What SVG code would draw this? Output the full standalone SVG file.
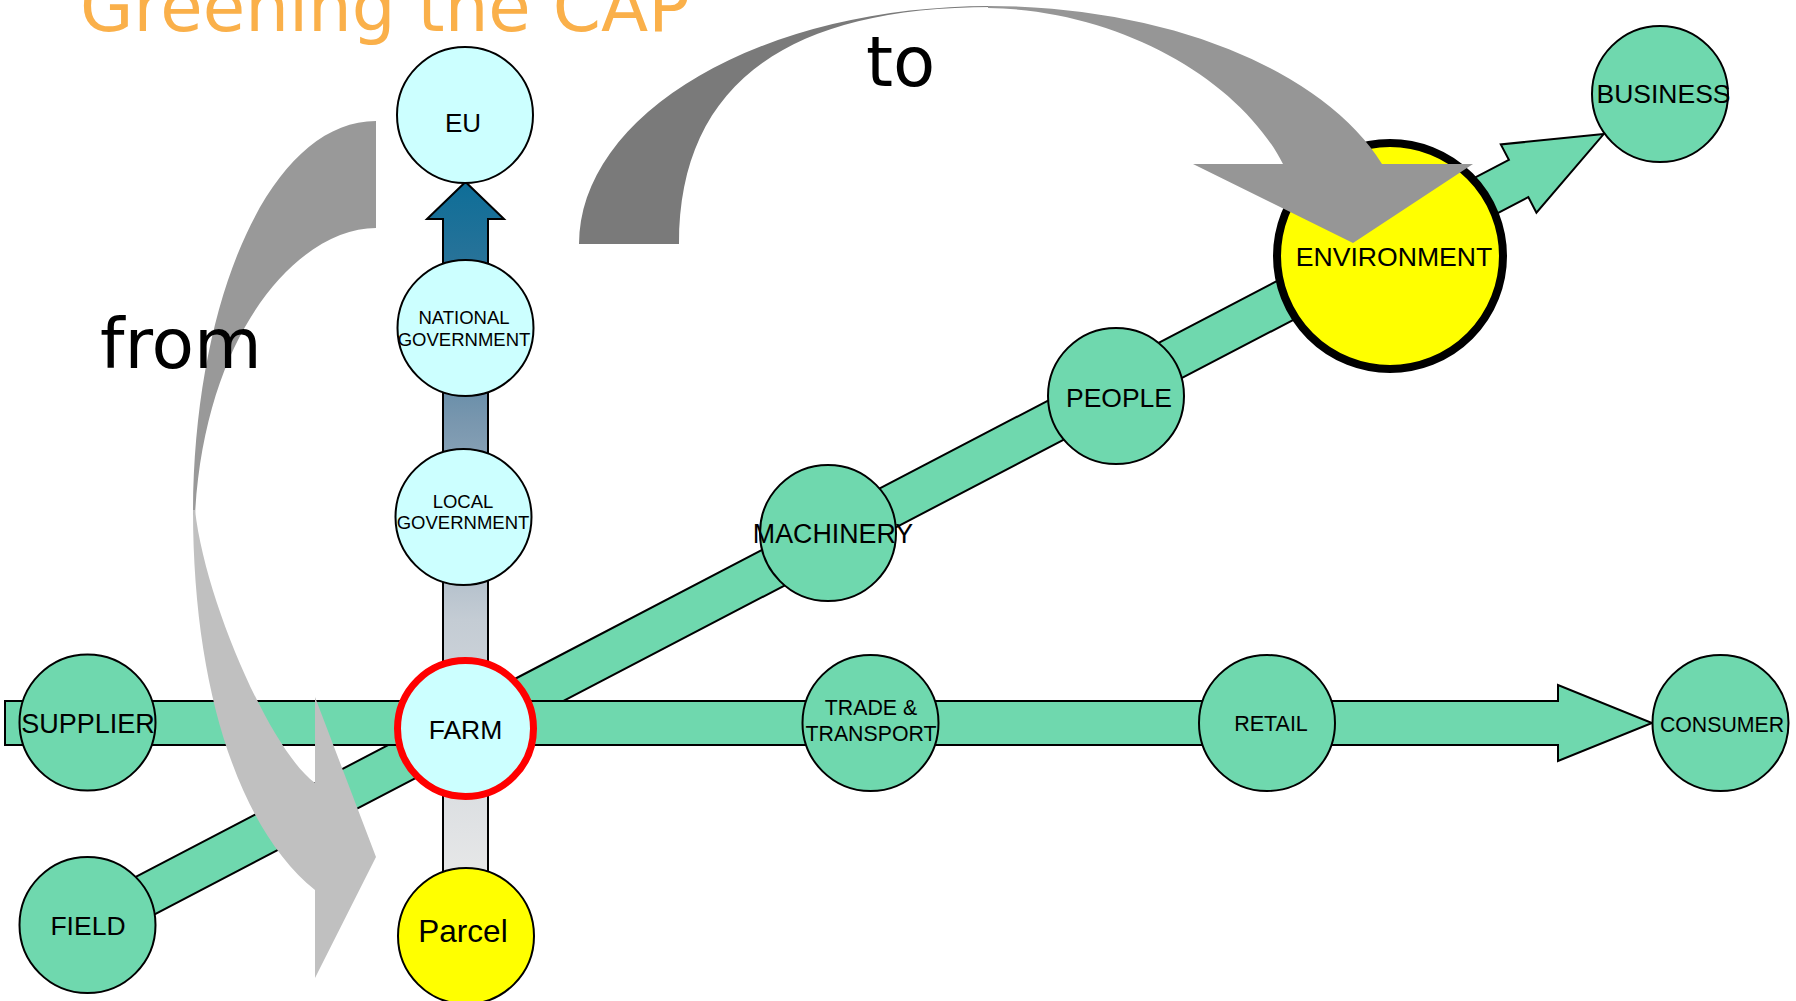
<svg xmlns="http://www.w3.org/2000/svg" width="1796" height="1001" viewBox="0 0 1796 1001">
<defs>
<style>
.nd{stroke:#000;stroke-width:2}
.gr{fill:#6FD8AE}
.cy{fill:#CCFFFF}
.ye{fill:#FFFF00}
.bar{fill:#6FD8AE;stroke:#000;stroke-width:2;stroke-linejoin:miter}
.lbl{font-family:"Liberation Sans",Arial,sans-serif;text-anchor:middle;fill:#000}
.big{font-family:"DejaVu Sans",Verdana,sans-serif;fill:#000}
</style>
<linearGradient id="vgrad" gradientUnits="userSpaceOnUse" x1="0" y1="182" x2="0" y2="900">
<stop offset="0" stop-color="#0E6E98"/>
<stop offset="0.12" stop-color="#2A7399"/>
<stop offset="0.33" stop-color="#7896AE"/>
<stop offset="0.61" stop-color="#C4CCD4"/>
<stop offset="1" stop-color="#EAEAEA"/>
</linearGradient>
</defs>
<rect width="1796" height="1001" fill="#FFFFFF"/>

<g id="connectors">
<g id="diagonal-arrow" transform="translate(87,926) rotate(-27.57)">
<path class="bar" d="M0,-21 L1615,-21 L1615,-38.5 L1711,0 L1615,38.5 L1615,21 L0,21 Z"/>
</g>
<path id="horizontal-arrow" class="bar" d="M5,701 L1558,701 L1558,685 L1652,723 L1558,761 L1558,745 L5,745 Z"/>
<path id="vertical-arrow" d="M443,900 L443,219 L427,219 L465.5,182 L504,219 L488,219 L488,900 Z" fill="url(#vgrad)" stroke="#000" stroke-width="2"/>
</g>

<g id="node-eu"><circle class="nd cy" cx="465" cy="115" r="68"/><text class="lbl" x="463" y="132" font-size="26">EU</text></g>
<g id="node-national"><circle class="nd cy" cx="465.5" cy="328" r="68"/><text class="lbl" x="464" y="324" font-size="18.5">NATIONAL</text><text class="lbl" x="464" y="346" font-size="18.5">GOVERNMENT</text></g>
<g id="node-local"><circle class="nd cy" cx="463.5" cy="517" r="68"/><text class="lbl" x="463" y="508" font-size="18.5">LOCAL</text><text class="lbl" x="463" y="529" font-size="18.5">GOVERNMENT</text></g>
<g id="node-farm"><circle class="cy" cx="465.5" cy="728.5" r="68" stroke="#FF0000" stroke-width="7"/><text class="lbl" x="465.5" y="739" font-size="26.5">FARM</text></g>
<g id="node-parcel"><circle class="nd ye" cx="466" cy="936" r="68"/><text class="lbl" x="463" y="942" font-size="31.5">Parcel</text></g>
<g id="node-supplier"><circle class="nd gr" cx="87.5" cy="722.5" r="68"/><text class="lbl" x="88" y="733" font-size="27">SUPPLIER</text></g>
<g id="node-field"><circle class="nd gr" cx="87.5" cy="925" r="68"/><text class="lbl" x="88" y="935" font-size="26.5">FIELD</text></g>
<g id="node-trade"><circle class="nd gr" cx="870.5" cy="723" r="68"/><text class="lbl" x="871" y="715" font-size="21.3">TRADE &amp;</text><text class="lbl" x="871" y="741" font-size="21.3">TRANSPORT</text></g>
<g id="node-retail"><circle class="nd gr" cx="1267" cy="723" r="68"/><text class="lbl" x="1271" y="731" font-size="21.5">RETAIL</text></g>
<g id="node-consumer"><circle class="nd gr" cx="1720.5" cy="723" r="68"/><text class="lbl" x="1722" y="732" font-size="21.3">CONSUMER</text></g>
<g id="node-machinery"><circle class="nd gr" cx="828" cy="533" r="68"/><text class="lbl" x="833" y="543" font-size="26.8">MACHINERY</text></g>
<g id="node-people"><circle class="nd gr" cx="1116" cy="396" r="68"/><text class="lbl" x="1119" y="407" font-size="26.5">PEOPLE</text></g>
<g id="node-environment"><circle class="ye" cx="1390" cy="256" r="113" stroke="#000" stroke-width="8"/><text class="lbl" x="1394" y="266" font-size="26.6">ENVIRONMENT</text></g>
<g id="node-business"><circle class="nd gr" cx="1660" cy="94" r="68"/><text class="lbl" x="1663.5" y="103" font-size="26.5">BUSINESS</text></g>

<g id="from-arrow">
<path d="M376,121 C270,121 193,300 193,515 L195,515 C205,330 300,228 376,228 Z" fill="#999999"/>
<path d="M193,510 C193,690 240,830 315,890 L315,978 L376,857 L315,697 L315,783 C270,750 205,600 195,510 Z" fill="#C0C0C0"/>
</g>
<g id="to-arrow">
<path d="M579,244 A411,238 0 0 1 990,6 L992,7 C780,7 679,90 679,244 Z" fill="#7A7A7A"/>
<path d="M988,6 A417,238 0 0 1 1382,164 L1473,164 L1353,243 L1193,164 L1283,164 C1240,80 1120,10 988,8 Z" fill="#969696"/>
</g>

<g id="texts">
<text x="80" y="31" font-family="'DejaVu Sans',Verdana,sans-serif" font-size="69" fill="#FAB04A">Greening the CAP</text>
<text class="big" x="100" y="368" font-size="69.5">from</text>
<text class="big" x="866" y="86" font-size="69">to</text>
</g>
</svg>
